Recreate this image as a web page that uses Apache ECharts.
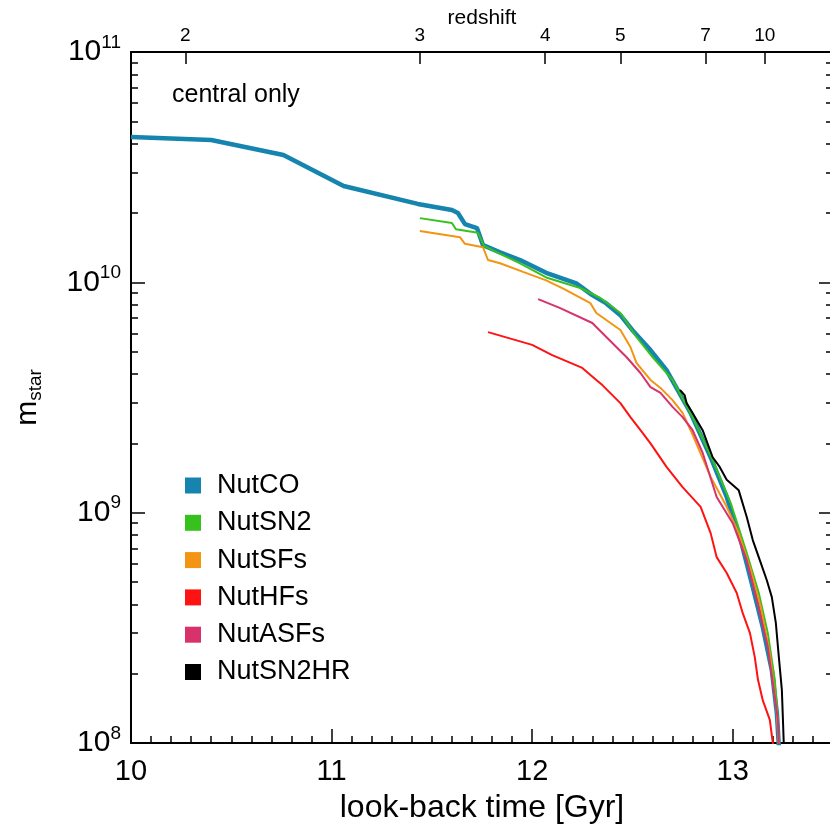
<!DOCTYPE html>
<html>
<head>
<meta charset="utf-8">
<script src="https://cdn.jsdelivr.net/npm/echarts@6/dist/echarts.min.js"></script>
<style>html,body{margin:0;padding:0;background:#fff}#c{width:830px;height:832px}</style>
</head>
<body>
<div id="c"></div>
<script>
// ---------------- data ----------------
const seriesNames = ['NutCO', 'NutSN2', 'NutSFs', 'NutHFs', 'NutASFs', 'NutSN2HR'];
const seriesColors = ['#1584ae', '#36c11c', '#f39412', '#ff1212', '#d8326c', '#000000'];

const nutCO_t = [10.00, 10.40, 10.76, 11.06, 11.43, 11.60, 11.63, 11.665, 11.725, 11.755, 11.84, 11.94, 12.07, 12.22, 12.30, 12.37, 12.44, 12.50, 12.59, 12.67, 12.79, 12.89, 12.97, 13.04, 13.10, 13.15, 13.195, 13.22, 13.23];
const nutCO_m = [4.28e10, 4.15e10, 3.57e10, 2.62e10, 2.19e10, 2.06e10, 2.00e10, 1.79e10, 1.72e10, 1.45e10, 1.35e10, 1.25e10, 1.10e10, 9.9e9, 8.8e9, 8.1e9, 7.2e9, 6.2e9, 5.08e9, 4.16e9, 2.71e9, 1.74e9, 1.17e9, 7.6e8, 4.75e8, 3.18e8, 2.07e8, 1.35e8, 9.7e7];

const nutSN2_t = [11.44, 11.60, 11.62, 11.73, 11.76, 11.84, 11.94, 12.07, 12.24, 12.34, 12.44, 12.52, 12.60, 12.70, 12.80, 12.90, 12.99, 13.07, 13.13, 13.175, 13.21, 13.225, 13.23];
const nutSN2_m = [1.90e10, 1.81e10, 1.70e10, 1.64e10, 1.44e10, 1.33e10, 1.21e10, 1.05e10, 9.45e9, 8.55e9, 7.36e9, 5.79e9, 4.74e9, 3.77e9, 2.60e9, 1.69e9, 1.10e9, 6.68e8, 4.48e8, 3.00e8, 1.88e8, 1.26e8, 9.7e7];

const nutSFs_t = [11.44, 11.64, 11.665, 11.755, 11.78, 11.84, 11.955, 12.07, 12.16, 12.29, 12.32, 12.44, 12.49, 12.52, 12.59, 12.64, 12.70, 12.75, 12.79, 12.89, 12.97, 13.03, 13.09, 13.14, 13.185, 13.22, 13.23];
const nutSFs_m = [1.67e10, 1.57e10, 1.47e10, 1.42e10, 1.25e10, 1.21e10, 1.11e10, 1.02e10, 9.35e9, 8.13e9, 7.36e9, 6.21e9, 5.24e9, 4.47e9, 3.77e9, 3.48e9, 3.08e9, 2.71e9, 2.28e9, 1.43e9, 1.06e9, 8.15e8, 5.64e8, 3.89e8, 2.45e8, 1.35e8, 9.7e7];

const nutHFs_t = [11.78, 12.00, 12.10, 12.25, 12.32, 12.35, 12.44, 12.49, 12.54, 12.59, 12.67, 12.75, 12.84, 12.89, 12.92, 12.97, 13.02, 13.05, 13.086, 13.11, 13.126, 13.15, 13.185, 13.20, 13.205];
const nutHFs_m = [6.08e9, 5.35e9, 4.83e9, 4.25e9, 3.77e9, 3.58e9, 2.99e9, 2.60e9, 2.28e9, 2.00e9, 1.58e9, 1.29e9, 1.06e9, 8.15e8, 6.41e8, 5.47e8, 4.48e8, 3.66e8, 3.00e8, 2.36e8, 1.88e8, 1.53e8, 1.26e8, 1.0e8, 9.4e7];

const nutASFs_t = [12.03, 12.14, 12.30, 12.35, 12.47, 12.54, 12.59, 12.64, 12.70, 12.75, 12.80, 12.85, 12.92, 13.00, 13.07, 13.12, 13.175, 13.21, 13.225, 13.23];
const nutASFs_m = [8.46e9, 7.73e9, 6.66e9, 6.03e9, 4.74e9, 4.04e9, 3.51e9, 3.31e9, 2.88e9, 2.60e9, 2.28e9, 1.82e9, 1.17e9, 9.0e8, 6.22e8, 4.18e8, 2.61e8, 1.58e8, 1.26e8, 9.7e7];

const nutSN2HR_t = [12.737, 12.76, 12.77, 12.80, 12.85, 12.90, 12.935, 12.97, 13.03, 13.07, 13.10, 13.135, 13.17, 13.195, 13.215, 13.23, 13.245, 13.25, 13.255];
const nutSN2HR_m = [3.41e9, 3.24e9, 2.99e9, 2.71e9, 2.28e9, 1.74e9, 1.58e9, 1.39e9, 1.25e9, 9.57e8, 7.60e8, 6.22e8, 5.09e8, 4.30e8, 3.32e8, 2.36e8, 1.70e8, 1.29e8, 9.7e7];

// tick labels
const xTickValues = [10, 11, 12, 13];
const yTickValues = [1e8, 1e9, 1e10, 1e11];
const redshiftLabels = ['2', '3', '4', '5', '7', '10'];
const redshiftLookback = [10.271, 11.440, 12.065, 12.440, 12.865, 13.160];

// ---------------- chart ----------------
const FONT = "'Liberation Sans', Arial, Helvetica, sans-serif";
const xMinorTicks = [];
for (let i = 101; i <= 134; i++) { if (i % 10 !== 0) xMinorTicks.push(i / 10); }
const yMinorTicks = [];
[1e8, 1e9, 1e10].forEach(function (d) { for (let k = 2; k <= 9; k++) yMinorTicks.push(k * d); });

const tSeries = [nutCO_t, nutSN2_t, nutSFs_t, nutHFs_t, nutASFs_t, nutSN2HR_t];
const mSeries = [nutCO_m, nutSN2_m, nutSFs_m, nutHFs_m, nutASFs_m, nutSN2HR_m];
const widths = [4.5, 2, 2, 2, 2, 2];

const tickLine = { color: '#000', width: 1.5 };
const frameLine = { color: '#000', width: 2 };
const xCommon = { type: 'value', min: 10, max: 13.5, splitLine: { show: false }, gridIndex: 0, nameMoveOverlap: false };
const yCommon = { type: 'log', logBase: 10, min: 1e8, max: 1e11, splitLine: { show: false }, gridIndex: 0, nameMoveOverlap: false };

const series = seriesNames.map(function (name, i) {
  return {
    name: name,
    type: 'line',
    xAxisIndex: 0,
    yAxisIndex: 0,
    showSymbol: false,
    symbol: 'none',
    color: seriesColors[i],
    lineStyle: { width: widths[i], color: seriesColors[i] },
    z: 2 + i,
    data: tSeries[i].map(function (t, j) { return [t, mSeries[i][j]]; })
  };
});

const option = {
  animation: false,
  backgroundColor: '#fff',
  textStyle: { fontFamily: FONT, color: '#000' },
  grid: { left: 131, top: 52, width: 702, height: 691, containLabel: false, outerBoundsMode: 'none' },
  legend: {
    orient: 'vertical',
    left: 185,
    top: 472,
    padding: 0,
    itemWidth: 16,
    itemHeight: 16,
    itemGap: 10.3,
    icon: 'rect',
    data: seriesNames,
    textStyle: { fontSize: 27, color: '#000', fontFamily: FONT, lineHeight: 27, padding: [0, 0, 0, 11] }
  },
  graphic: [{
    type: 'text',
    left: 172,
    top: 83,
    style: { text: 'central only', fontSize: 25, fill: '#000', fontFamily: FONT }
  }],
  xAxis: [
    Object.assign({}, xCommon, {
      position: 'bottom',
      axisLine: { show: true, onZero: false, lineStyle: frameLine },
      axisTick: { show: true, inside: true, length: 14, lineStyle: tickLine, customValues: xTickValues },
      axisLabel: { show: true, customValues: xTickValues, margin: 14, fontSize: 29, color: '#000', fontFamily: FONT,
                   formatter: function (v) { return String(v); } },
      name: 'look-back time [Gyr]', nameLocation: 'middle', nameGap: 49,
      nameTextStyle: { fontSize: 32, color: '#000', fontFamily: FONT }
    }),
    Object.assign({}, xCommon, {
      position: 'bottom',
      axisLine: { show: false, onZero: false },
      axisTick: { show: true, inside: true, length: 7, lineStyle: tickLine, customValues: xMinorTicks },
      axisLabel: { show: false }
    }),
    Object.assign({}, xCommon, {
      position: 'top',
      axisLine: { show: true, onZero: false, lineStyle: frameLine },
      axisTick: { show: true, inside: true, length: 12, lineStyle: tickLine, customValues: redshiftLookback },
      axisLabel: { show: true, customValues: redshiftLookback, margin: 7, fontSize: 19, color: '#000', fontFamily: FONT,
                   formatter: function (v) {
                     let best = 0;
                     for (let k = 1; k < redshiftLookback.length; k++) {
                       if (Math.abs(redshiftLookback[k] - v) < Math.abs(redshiftLookback[best] - v)) best = k;
                     }
                     return redshiftLabels[best];
                   } },
      name: 'redshift', nameLocation: 'middle', nameGap: 23,
      nameTextStyle: { fontSize: 21, color: '#000', fontFamily: FONT }
    })
  ],
  yAxis: [
    Object.assign({}, yCommon, {
      position: 'left',
      axisLine: { show: true, onZero: false, lineStyle: frameLine },
      axisTick: { show: true, inside: true, length: 14, lineStyle: tickLine, customValues: yTickValues },
      axisLabel: {
        show: true, customValues: yTickValues, margin: 10,
        formatter: function (v) { return '{b|10}{e|' + Math.round(Math.log10(v)) + '}'; },
        rich: {
          b: { fontSize: 30, color: '#000', fontFamily: FONT },
          e: { fontSize: 19, color: '#000', fontFamily: FONT, padding: [0, 0, 19, 0] }
        }
      },
      name: '{m|m}{s|star}', nameLocation: 'middle', nameRotate: 90, nameGap: 86,
      nameTextStyle: {
        rich: {
          m: { fontSize: 30, color: '#000', fontFamily: FONT },
          s: { fontSize: 19, color: '#000', fontFamily: FONT, padding: [16, 0, 0, 0] }
        }
      }
    }),
    Object.assign({}, yCommon, {
      position: 'left',
      axisLine: { show: false, onZero: false },
      axisTick: { show: true, inside: true, length: 7, lineStyle: tickLine, customValues: yMinorTicks },
      axisLabel: { show: false }
    }),
    Object.assign({}, yCommon, {
      position: 'right',
      axisLine: { show: false, onZero: false },
      axisTick: { show: true, inside: true, length: 14, lineStyle: tickLine, customValues: yTickValues },
      axisLabel: { show: false }
    }),
    Object.assign({}, yCommon, {
      position: 'right',
      axisLine: { show: false, onZero: false },
      axisTick: { show: true, inside: true, length: 7, lineStyle: tickLine, customValues: yMinorTicks },
      axisLabel: { show: false }
    })
  ],
  series: series
};

const chart = echarts.init(document.getElementById('c'), null, { renderer: 'canvas' });
chart.setOption(option);
</script>
</body>
</html>
